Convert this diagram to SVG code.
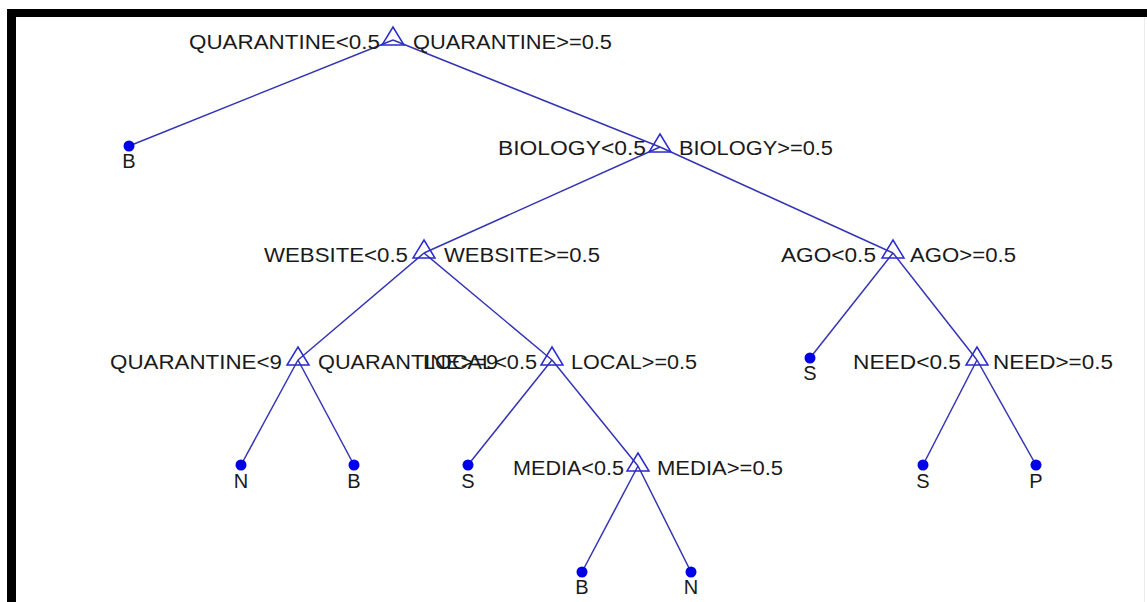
<svg xmlns="http://www.w3.org/2000/svg" width="1147" height="602" viewBox="0 0 1147 602">
  <style>
    .edge { stroke: #3434b4; stroke-width: 1.5; fill: none; }
    .split { stroke: #2a2ad0; stroke-width: 1.5; fill: none; }
    .leaf { fill: #0000e8; }
    .lbl { font-family: "Liberation Sans", Arial, sans-serif; font-size: 20px; fill: #1a1a1a; }
    .cls { font-family: "Liberation Sans", Arial, sans-serif; font-size: 20px; fill: #1a1a1a; text-anchor: middle; }
  </style>
  <defs>
    <polygon id="tri" class="split" points="0,-13 11,5 -11,5"/>
  </defs>

  <!-- frame -->
  <rect x="0" y="0" width="1147" height="602" fill="#ffffff"/>
  <rect x="7" y="9" width="1140" height="8" fill="#000000"/>
  <rect x="7" y="9" width="9" height="593" fill="#000000"/>
  <line x1="1144.5" y1="17" x2="1144.5" y2="602" stroke="#ececec" stroke-width="1"/>

  <!-- branches -->
  <g id="connectors">
    <line class="edge" x1="393" y1="40" x2="129" y2="146"/>
    <line class="edge" x1="393" y1="40" x2="660" y2="147"/>
    <line class="edge" x1="660" y1="147" x2="424" y2="253"/>
    <line class="edge" x1="660" y1="147" x2="893" y2="253"/>
    <line class="edge" x1="424" y1="253" x2="298" y2="360"/>
    <line class="edge" x1="424" y1="253" x2="552" y2="360"/>
    <line class="edge" x1="893" y1="253" x2="810" y2="358"/>
    <line class="edge" x1="893" y1="253" x2="977" y2="360"/>
    <line class="edge" x1="298" y1="360" x2="241" y2="465"/>
    <line class="edge" x1="298" y1="360" x2="354" y2="465"/>
    <line class="edge" x1="552" y1="360" x2="468" y2="465"/>
    <line class="edge" x1="552" y1="360" x2="638" y2="466"/>
    <line class="edge" x1="977" y1="360" x2="923" y2="465"/>
    <line class="edge" x1="977" y1="360" x2="1036" y2="465"/>
    <line class="edge" x1="638" y1="466" x2="582" y2="572"/>
    <line class="edge" x1="638" y1="466" x2="691" y2="572"/>
  </g>

  <!-- split nodes -->
  <g id="node-quarantine-root">
    <use href="#tri" x="393" y="40"/>
    <text class="lbl" x="189" y="49" textLength="191" lengthAdjust="spacingAndGlyphs">QUARANTINE&lt;0.5</text>
    <text class="lbl" x="413" y="49" textLength="199" lengthAdjust="spacingAndGlyphs">QUARANTINE&gt;=0.5</text>
  </g>
  <g id="node-biology">
    <use href="#tri" x="660" y="147"/>
    <text class="lbl" x="498" y="155" textLength="148" lengthAdjust="spacingAndGlyphs">BIOLOGY&lt;0.5</text>
    <text class="lbl" x="679" y="155" textLength="154" lengthAdjust="spacingAndGlyphs">BIOLOGY&gt;=0.5</text>
  </g>
  <g id="node-website">
    <use href="#tri" x="424" y="253"/>
    <text class="lbl" x="264" y="262" textLength="144" lengthAdjust="spacingAndGlyphs">WEBSITE&lt;0.5</text>
    <text class="lbl" x="444" y="262" textLength="156" lengthAdjust="spacingAndGlyphs">WEBSITE&gt;=0.5</text>
  </g>
  <g id="node-ago">
    <use href="#tri" x="893" y="253"/>
    <text class="lbl" x="781" y="262" textLength="95" lengthAdjust="spacingAndGlyphs">AGO&lt;0.5</text>
    <text class="lbl" x="910" y="262" textLength="106" lengthAdjust="spacingAndGlyphs">AGO&gt;=0.5</text>
  </g>
  <g id="node-quarantine-9">
    <use href="#tri" x="298" y="360"/>
    <text class="lbl" x="110" y="369" textLength="172" lengthAdjust="spacingAndGlyphs">QUARANTINE&lt;9</text>
    <text class="lbl" x="318" y="369" textLength="180" lengthAdjust="spacingAndGlyphs">QUARANTINE&gt;=9</text>
  </g>
  <g id="node-local">
    <use href="#tri" x="552" y="360"/>
    <text class="lbl" x="423" y="369" textLength="114" lengthAdjust="spacingAndGlyphs">LOCAL&lt;0.5</text>
    <text class="lbl" x="571" y="369" textLength="126" lengthAdjust="spacingAndGlyphs">LOCAL&gt;=0.5</text>
  </g>
  <g id="node-need">
    <use href="#tri" x="977" y="360"/>
    <text class="lbl" x="853" y="369" textLength="108" lengthAdjust="spacingAndGlyphs">NEED&lt;0.5</text>
    <text class="lbl" x="993" y="369" textLength="120" lengthAdjust="spacingAndGlyphs">NEED&gt;=0.5</text>
  </g>
  <g id="node-media">
    <use href="#tri" x="638" y="466"/>
    <text class="lbl" x="513" y="475" textLength="111" lengthAdjust="spacingAndGlyphs">MEDIA&lt;0.5</text>
    <text class="lbl" x="657" y="475" textLength="126" lengthAdjust="spacingAndGlyphs">MEDIA&gt;=0.5</text>
  </g>

  <!-- leaf nodes -->
  <g id="leaf-b1"><circle class="leaf" cx="129" cy="146" r="5.5"/><text class="cls" x="129" y="168">B</text></g>
  <g id="leaf-s1"><circle class="leaf" cx="810" cy="358" r="5.5"/><text class="cls" x="810" y="380">S</text></g>
  <g id="leaf-n1"><circle class="leaf" cx="241" cy="465" r="5.5"/><text class="cls" x="241" y="488">N</text></g>
  <g id="leaf-b2"><circle class="leaf" cx="354" cy="465" r="5.5"/><text class="cls" x="354" y="488">B</text></g>
  <g id="leaf-s2"><circle class="leaf" cx="468" cy="465" r="5.5"/><text class="cls" x="468" y="488">S</text></g>
  <g id="leaf-s3"><circle class="leaf" cx="923" cy="465" r="5.5"/><text class="cls" x="923" y="488">S</text></g>
  <g id="leaf-p1"><circle class="leaf" cx="1036" cy="465" r="5.5"/><text class="cls" x="1036" y="488">P</text></g>
  <g id="leaf-b3"><circle class="leaf" cx="582" cy="572" r="5.5"/><text class="cls" x="582" y="594">B</text></g>
  <g id="leaf-n2"><circle class="leaf" cx="691" cy="572" r="5.5"/><text class="cls" x="691" y="594">N</text></g>
</svg>
